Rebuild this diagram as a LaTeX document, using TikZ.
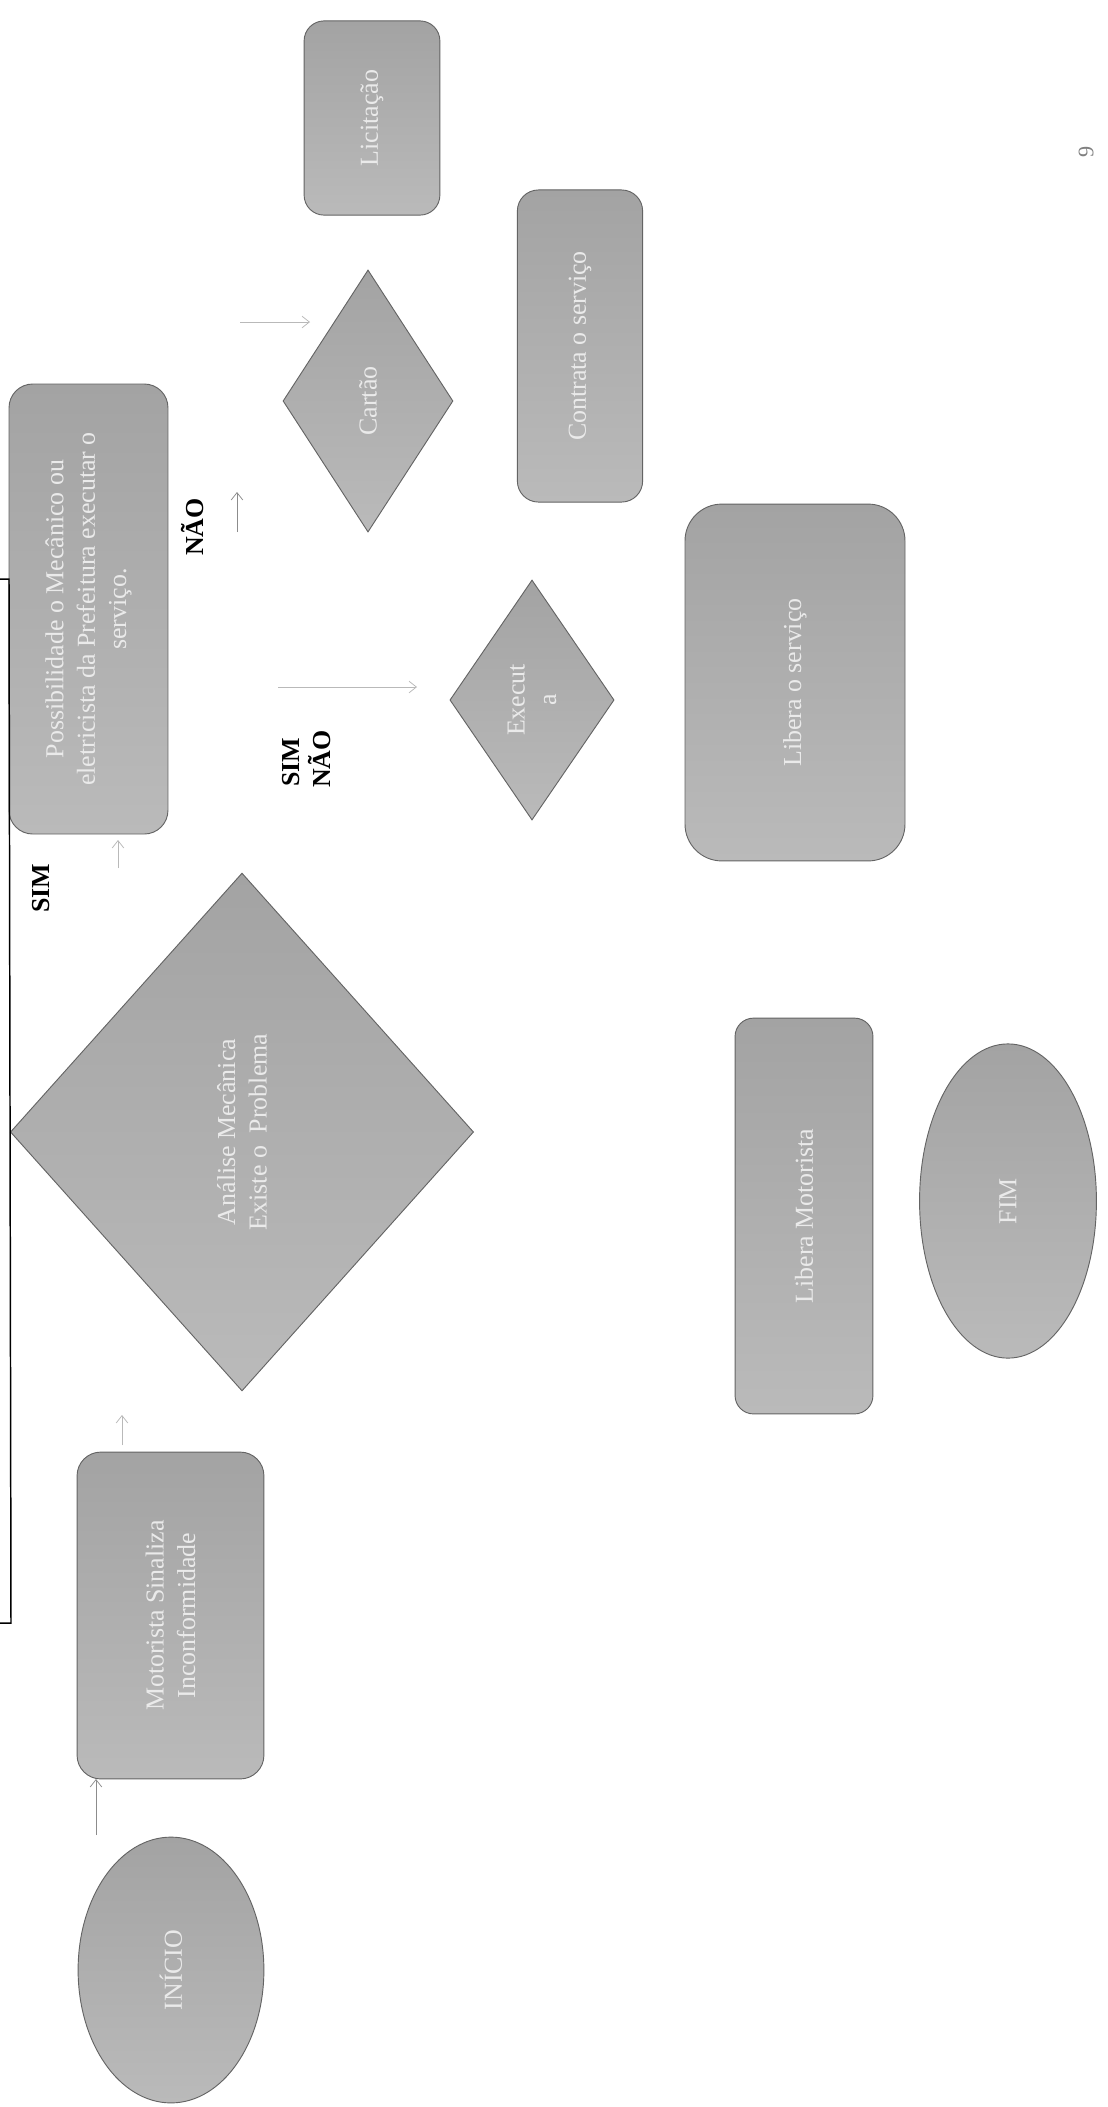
\documentclass[tikz,border=0pt]{standalone}
\usepackage{fontspec}
\setmainfont{Liberation Serif}
\usetikzlibrary{shapes.geometric,arrows.meta}
\definecolor{boxdark}{RGB}{163,163,163}
\definecolor{boxlight}{RGB}{186,186,186}
\definecolor{boxline}{RGB}{100,100,100}
\definecolor{boxtext}{RGB}{234,234,234}
\definecolor{arrowgray}{RGB}{140,140,140}
\definecolor{faintgray}{RGB}{185,185,185}
\begin{document}
\begin{tikzpicture}[x=0.19mm,y=-0.19mm,
  shapebase/.style={draw=boxline, line width=0.5pt, top color=boxdark, bottom color=boxlight,
    text=boxtext, font=\fontsize{14}{17}\selectfont, rotate=90, align=center, inner sep=2pt},
  roundbox/.style={shapebase, rectangle, rounded corners=#1},
  roundbox/.default=4mm,
  decision/.style={shapebase, diamond, inner sep=0pt},
  terminal/.style={shapebase, ellipse, inner sep=0pt},
  lbl/.style={font=\bfseries\fontsize{14}{17}\selectfont, rotate=90, inner sep=0pt},
  flow/.style={draw=arrowgray, line width=0.4pt, -{Straight Barb[length=1.4mm,width=2.2mm]}},
  faintflow/.style={flow, draw=faintgray},
]
\useasboundingbox (0,0) rectangle (1108,2107);
\fill[white] (0,0) rectangle (1108,2107);

% shapes
\node[roundbox=3.8mm, minimum width=36.9mm, minimum height=25.8mm] (lic) at (372,118) {Licitação};
\node[roundbox=4mm, minimum width=59.3mm, minimum height=23.8mm] (contr) at (580,346) {Contrata o serviço};
\node[decision, minimum width=49.8mm, minimum height=32.3mm] (cartao) at (368,401) {Cartão};
\node[roundbox=4.5mm, minimum width=85.5mm, minimum height=30.2mm] (poss) at (88.5,609)
  {Possibilidade o Mecânico ou\\eletricista da Prefeitura executar o\\serviço.};
\node[decision, minimum width=45.6mm, minimum height=31.2mm] (exec) at (532,700) {Execut\\a};
\node[roundbox=7mm, minimum width=67.8mm, minimum height=41.8mm] (libserv) at (795,682.5) {Libera o serviço};
\node[decision, minimum width=98.4mm, minimum height=88mm] (anal) at (242,1132)
  {Análise Mecânica\\Existe o~ Problema};
\node[roundbox=3.5mm, minimum width=75.2mm, minimum height=26.2mm] (libmot) at (804,1216) {Libera Motorista};
\node[terminal, minimum width=59.7mm, minimum height=33.6mm] (fim) at (1008,1201) {FIM};
\node[roundbox=4.5mm, minimum width=62.1mm, minimum height=35.5mm] (mot) at (170.5,1615.5)
  {Motorista Sinaliza\\Inconformidade};
\node[terminal, minimum width=50.5mm, minimum height=35.3mm] (ini) at (171,1970) {INÍCIO};

% labels
\node[lbl] (nao1) at (193,527) {NÃO};
\node[lbl] (sim1) at (41,888) {SIM};
\node[lbl] (sim2) at (291,762) {SIM};
\node[lbl] (nao2) at (320,759) {NÃO};
\node[rotate=90, font=\fontsize{12}{14}\selectfont, text=gray, inner sep=0pt] (pg) at (1086,152) {9};

% bracket line
\coordinate (b1) at (0,579);
\coordinate (b2) at (9,579);
\coordinate (b3) at (11,1623);
\coordinate (b4) at (0,1623);
\draw[line width=0.8pt] (b1) -- (b2) -- (b3) -- (b4);

% small arrows
\coordinate (a1s) at (240,322); \coordinate (a1e) at (310,322);
\draw[faintflow] (a1s) -- (a1e);
\coordinate (a2s) at (237,532); \coordinate (a2e) at (237,492);
\draw[flow] (a2s) -- (a2e);
\coordinate (a3s) at (278,687); \coordinate (a3e) at (417,687);
\draw[faintflow] (a3s) -- (a3e);
\coordinate (a4s) at (118,868); \coordinate (a4e) at (118,840);
\draw[faintflow] (a4s) -- (a4e);
\coordinate (a5s) at (122,1445); \coordinate (a5e) at (122,1415);
\draw[faintflow] (a5s) -- (a5e);
\coordinate (a6s) at (96,1835); \coordinate (a6e) at (96,1779);
\draw[flow] (a6s) -- (a6e);
\end{tikzpicture}
\end{document}
